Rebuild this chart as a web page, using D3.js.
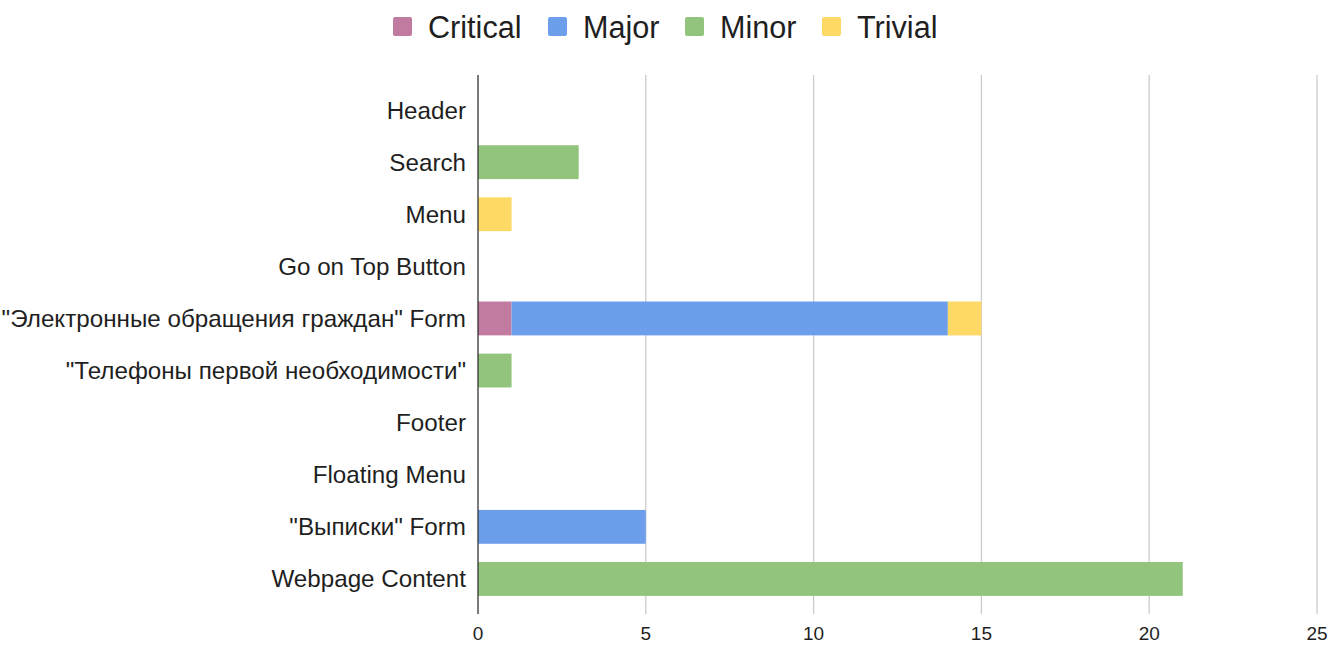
<!DOCTYPE html>
<html lang="en">
<head>
	<meta charset="UTF-8">
	<title>Defects by area</title>
	<script src="https://d3js.org/d3.v7.min.js"></script>
	<style>
		body { margin: 0; background: #fff; }
	</style>
</head>
<body>
<script>
	// ----data----
	var categories = ['Header', 'Search', 'Menu', 'Go on Top Button',
		'"Электронные обращения граждан" Form', '"Телефоны первой необходимости"',
		'Footer', 'Floating Menu', '"Выписки" Form', 'Webpage Content'];
	var severities = ['Critical', 'Major', 'Minor', 'Trivial'];
	var critical = [0, 0, 0, 0, 1, 0, 0, 0, 0, 0];
	var major    = [0, 0, 0, 0, 13, 0, 0, 0, 5, 0];
	var minor    = [0, 3, 0, 0, 0, 1, 0, 0, 0, 21];
	var trivial  = [0, 0, 1, 0, 1, 0, 0, 0, 0, 0];
	var xTicks = [0, 5, 10, 15, 20, 25];
	var colors = ['#c27ba0', '#6d9eeb', '#93c47d', '#ffd966'];

	var rows = categories.map(function (c, i) {
		return {cat: c, Critical: critical[i], Major: major[i], Minor: minor[i], Trivial: trivial[i]};
	});

	var W = 1330, H = 645;
	var margin = {top: 84, bottom: 40, left: 478, right: 13};

	var svg = d3.select('body').append('svg')
		.attr('width', W)
		.attr('height', H)
		.attr('font-family', 'Arial, "Liberation Sans", sans-serif')
		.attr('fill', '#1f1f1f');

	var x = d3.scaleLinear().domain([0, 25]).range([margin.left, W - margin.right]);
	var y = d3.scaleBand().domain(categories)
		.range([margin.top, H - margin.bottom])
		.paddingInner(0.35).paddingOuter(0.175);

	var color = d3.scaleOrdinal().domain(severities).range(colors);

	//----gridlines----
	svg.append('g').selectAll('line')
		.data(xTicks.slice(1))
		.join('line')
		.attr('x1', function (d) { return x(d); })
		.attr('x2', function (d) { return x(d); })
		.attr('y1', 75)
		.attr('y2', 614)
		.attr('stroke', '#cccccc')
		.attr('stroke-width', 1.3);

	//----bars----
	var stack = d3.stack().keys(severities)(rows);
	svg.append('g').selectAll('g')
		.data(stack)
		.join('g')
		.attr('fill', function (d) { return color(d.key); })
		.selectAll('rect')
		.data(function (d) { return d; })
		.join('rect')
		.attr('x', function (d) { return x(d[0]); })
		.attr('y', function (d) { return y(d.data.cat); })
		.attr('width', function (d) { return x(d[1]) - x(d[0]); })
		.attr('height', y.bandwidth());

	//----axis line----
	svg.append('line')
		.attr('x1', x(0)).attr('x2', x(0))
		.attr('y1', 75).attr('y2', 614)
		.attr('stroke', '#333')
		.attr('stroke-width', 1.3);

	//----category labels----
	svg.append('g').selectAll('text')
		.data(categories)
		.join('text')
		.attr('x', x(0) - 12)
		.attr('y', function (d) { return y(d) + y.bandwidth() / 2; })
		.attr('dy', '0.35em')
		.attr('text-anchor', 'end')
		.style('font-size', '24.2px')
		.text(function (d) { return d; });

	//----x tick labels----
	svg.append('g').selectAll('text')
		.data(xTicks)
		.join('text')
		.attr('x', function (d) { return x(d); })
		.attr('y', 640)
		.attr('text-anchor', 'middle')
		.style('font-size', '19px')
		.text(function (d) { return d; });

	//----legend----
	var legendX = [393, 548, 685, 822];
	var legend = svg.append('g').selectAll('g')
		.data(severities)
		.join('g')
		.attr('transform', function (d, i) { return 'translate(' + legendX[i] + ',0)'; });
	legend.append('rect')
		.attr('x', 0).attr('y', 17)
		.attr('width', 19).attr('height', 19)
		.attr('rx', 2)
		.attr('fill', function (d) { return color(d); });
	legend.append('text')
		.attr('x', 35).attr('y', 38)
		.style('font-size', '30.6px')
		.text(function (d) { return d; });
</script>
</body>
</html>
